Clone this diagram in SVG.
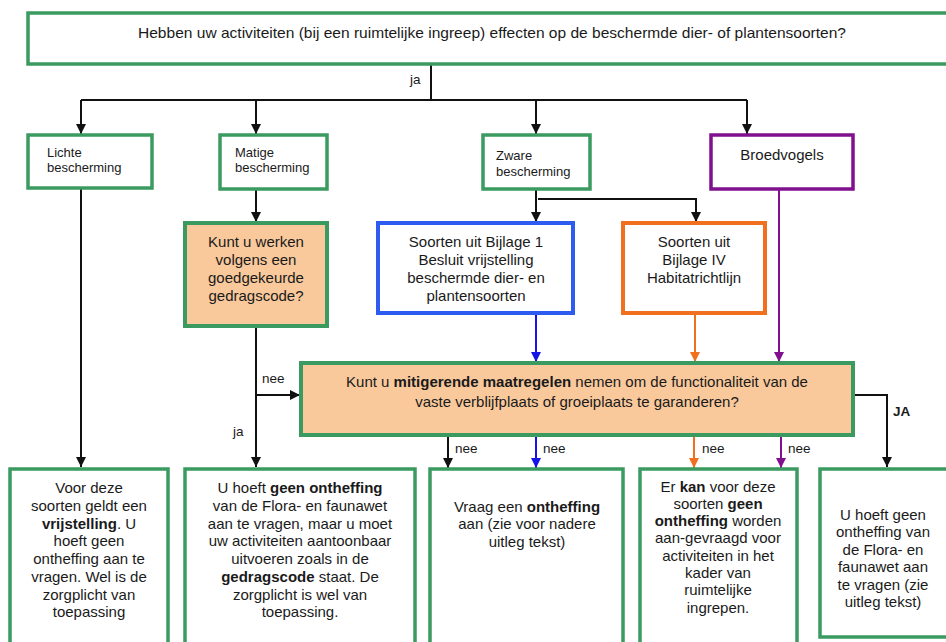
<svg xmlns="http://www.w3.org/2000/svg" width="946" height="642" viewBox="0 0 946 642">
<style>
text{font-family:"Liberation Sans",Arial,sans-serif;fill:#1a1a1a}
.t{font-size:15px;text-anchor:middle}
.s{font-size:13px}
.l{font-size:13.5px}
.b{font-weight:bold}
.g{fill:#fff;stroke:#3a9a60;stroke-width:3.5}
.p{fill:#f9c99c;stroke:#3a9a60;stroke-width:4}
.k{fill:none;stroke:#111;stroke-width:2}
</style>
<defs>
<marker id="ak" viewBox="0 0 10 10" refX="10" refY="5" markerWidth="10" markerHeight="10" markerUnits="userSpaceOnUse" orient="auto"><path d="M0,0L10,5L0,10z" fill="#111"/></marker>
<marker id="ab" viewBox="0 0 10 10" refX="10" refY="5" markerWidth="10" markerHeight="10" markerUnits="userSpaceOnUse" orient="auto"><path d="M0,0L10,5L0,10z" fill="#1414e8"/></marker>
<marker id="ao" viewBox="0 0 10 10" refX="10" refY="5" markerWidth="10" markerHeight="10" markerUnits="userSpaceOnUse" orient="auto"><path d="M0,0L10,5L0,10z" fill="#f07020"/></marker>
<marker id="ap" viewBox="0 0 10 10" refX="10" refY="5" markerWidth="10" markerHeight="10" markerUnits="userSpaceOnUse" orient="auto"><path d="M0,0L10,5L0,10z" fill="#80108e"/></marker>
</defs>
<rect width="946" height="642" fill="#fff"/>

<g id="connectors">
<path class="k" d="M431,64V100"/>
<path class="k" d="M81,100H747"/>
<path class="k" d="M81,100V134" marker-end="url(#ak)"/>
<path class="k" d="M256,100V134" marker-end="url(#ak)"/>
<path class="k" d="M536,100V134" marker-end="url(#ak)"/>
<path class="k" d="M747,100V134" marker-end="url(#ak)"/>
<path class="k" d="M81,188V467" marker-end="url(#ak)"/>
<path class="k" d="M256,189V222" marker-end="url(#ak)"/>
<path class="k" d="M256,326V467" marker-end="url(#ak)"/>
<path class="k" d="M256,395H300" marker-end="url(#ak)"/>
<path class="k" d="M536,189V222" marker-end="url(#ak)"/>
<path class="k" d="M538,199H696V222" marker-end="url(#ak)"/>
<path d="M536,313V362" fill="none" stroke="#1414e8" stroke-width="2" marker-end="url(#ab)"/>
<path d="M695,313V362" fill="none" stroke="#f07020" stroke-width="2" marker-end="url(#ao)"/>
<path d="M779,189V362" fill="none" stroke="#80108e" stroke-width="2" marker-end="url(#ap)"/>
<path class="k" d="M853,395H887V467" marker-end="url(#ak)"/>
<path class="k" d="M448,435V468" marker-end="url(#ak)"/>
<path d="M536,435V468" fill="none" stroke="#1414e8" stroke-width="2" marker-end="url(#ab)"/>
<path d="M694,435V468" fill="none" stroke="#f07020" stroke-width="2" marker-end="url(#ao)"/>
<path d="M781,435V468" fill="none" stroke="#80108e" stroke-width="2" marker-end="url(#ap)"/>
<text class="l" x="410" y="84">ja</text>
<text class="l" x="262" y="383">nee</text>
<text class="l" x="233" y="436">ja</text>
<text class="l" x="455" y="453">nee</text>
<text class="l" x="543" y="453">nee</text>
<text class="l" x="702" y="453">nee</text>
<text class="l" x="788" y="453">nee</text>
<text class="l b" x="893" y="416" font-size="14">JA</text>
</g>

<g id="vraag">
<rect class="g" x="28" y="13" width="930" height="51"/>
<text x="138" y="38" font-size="14.5" textLength="708" lengthAdjust="spacingAndGlyphs">Hebben uw activiteiten (bij een ruimtelijke ingreep) effecten op de beschermde dier- of plantensoorten?</text>
</g>

<g id="lichte">
<rect class="g" x="28" y="135" width="124" height="53"/>
<text class="s" x="47" y="157">Lichte</text>
<text class="s" x="47" y="172">bescherming</text>
</g>

<g id="matige">
<rect class="g" x="220" y="135" width="107" height="54"/>
<text class="s" x="235" y="157">Matige</text>
<text class="s" x="235" y="172">bescherming</text>
</g>

<g id="zware">
<rect class="g" x="483" y="135" width="107" height="54"/>
<text class="s" x="496" y="160">Zware</text>
<text class="s" x="496" y="176">bescherming</text>
</g>

<g id="broedvogels">
<rect x="711" y="135" width="142" height="54" fill="#fff" stroke="#80108e" stroke-width="3.5"/>
<text class="t" x="782" y="160">Broedvogels</text>
</g>

<g id="gedragscode">
<rect class="p" x="185" y="223" width="142" height="103"/>
<text class="t" x="256" y="247">Kunt u werken</text>
<text class="t" x="256" y="265">volgens een</text>
<text class="t" x="256" y="283">goedgekeurde</text>
<text class="t" x="256" y="301">gedragscode?</text>
</g>

<g id="bijlage1">
<rect x="378" y="223" width="195" height="90" fill="#fff" stroke="#2f5cf0" stroke-width="4"/>
<text class="t" x="476" y="247">Soorten uit Bijlage 1</text>
<text class="t" x="476" y="265">Besluit vrijstelling</text>
<text class="t" x="476" y="283">beschermde dier- en</text>
<text class="t" x="476" y="301">plantensoorten</text>
</g>

<g id="bijlage4">
<rect x="623" y="223" width="142" height="90" fill="#fff" stroke="#f07020" stroke-width="4"/>
<text class="t" x="694" y="247">Soorten uit</text>
<text class="t" x="694" y="265">Bijlage IV</text>
<text class="t" x="694" y="283">Habitatrichtlijn</text>
</g>

<g id="mitigerend">
<rect class="p" x="301" y="363" width="552" height="72"/>
<text class="t" x="577" y="387">Kunt u <tspan class="b">mitigerende maatregelen</tspan> nemen om de functionaliteit van de</text>
<text class="t" x="577" y="407">vaste verblijfplaats of groeiplaats te garanderen?</text>
</g>

<g id="vrijstelling">
<rect class="g" x="10" y="469" width="158" height="190"/>
<text class="t" x="89" y="493">Voor deze</text>
<text class="t" x="89" y="511">soorten geldt een</text>
<text class="t" x="89" y="529"><tspan class="b">vrijstelling</tspan>. U</text>
<text class="t" x="89" y="546">hoeft geen</text>
<text class="t" x="89" y="564">ontheffing aan te</text>
<text class="t" x="89" y="582">vragen. Wel is de</text>
<text class="t" x="89" y="600">zorgplicht van</text>
<text class="t" x="89" y="617">toepassing</text>
</g>

<g id="geen-ontheffing-gedragscode">
<rect class="g" x="185" y="469" width="230" height="190"/>
<text class="t" x="300" y="493">U hoeft <tspan class="b">geen ontheffing</tspan></text>
<text class="t" x="300" y="511">van de Flora- en faunawet</text>
<text class="t" x="300" y="529">aan te vragen, maar u moet</text>
<text class="t" x="300" y="546">uw activiteiten aantoonbaar</text>
<text class="t" x="300" y="564">uitvoeren zoals in de</text>
<text class="t" x="300" y="582"><tspan class="b">gedragscode</tspan> staat. De</text>
<text class="t" x="300" y="600">zorgplicht is wel van</text>
<text class="t" x="300" y="617">toepassing.</text>
</g>

<g id="ontheffing">
<rect class="g" x="430" y="469" width="193" height="190"/>
<text class="t" x="527" y="512">Vraag een <tspan class="b">ontheffing</tspan></text>
<text class="t" x="527" y="529">aan (zie voor nadere</text>
<text class="t" x="527" y="547">uitleg tekst)</text>
</g>

<g id="geen-ontheffing-mogelijk">
<rect class="g" x="640" y="469" width="157" height="190"/>
<text class="t" x="718" y="492" font-size="14">Er <tspan class="b">kan</tspan> voor deze</text>
<text class="t" x="718" y="509" font-size="14">soorten <tspan class="b">geen</tspan></text>
<text class="t" x="718" y="526" font-size="14"><tspan class="b">ontheffing</tspan> worden</text>
<text class="t" x="718" y="543" font-size="14">aan-gevraagd voor</text>
<text class="t" x="718" y="561" font-size="14">activiteiten in het</text>
<text class="t" x="718" y="578" font-size="14">kader van</text>
<text class="t" x="718" y="595" font-size="14">ruimtelijke</text>
<text class="t" x="718" y="613" font-size="14">ingrepen.</text>
</g>

<g id="geen-ontheffing">
<rect class="g" x="820" y="469" width="140" height="168"/>
<text class="t" x="883" y="520">U hoeft geen</text>
<text class="t" x="883" y="537">ontheffing van</text>
<text class="t" x="883" y="555">de Flora- en</text>
<text class="t" x="883" y="572">faunawet aan</text>
<text class="t" x="883" y="590">te vragen (zie</text>
<text class="t" x="883" y="607">uitleg tekst)</text>
</g>
</svg>
